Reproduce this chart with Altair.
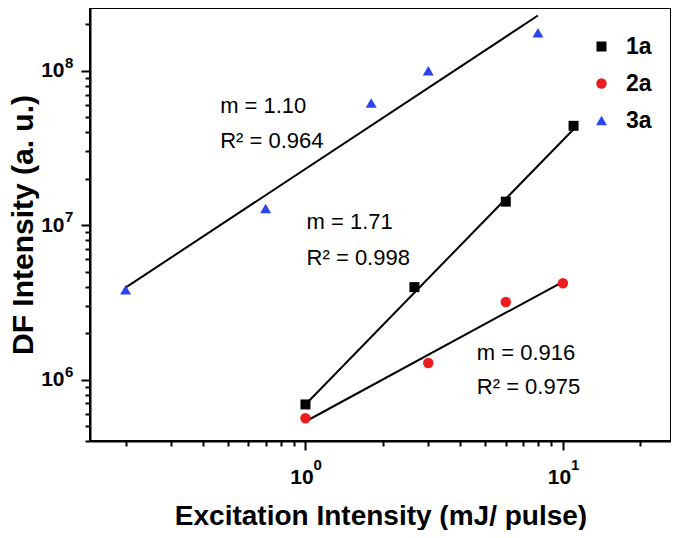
import altair as alt
import pandas as pd

# ---- data ----
series_names = ["1a", "2a", "3a"]
x_1a = [1.0, 2.65, 6.0, 11.0]
y_1a = [6.9e5, 3.97e6, 1.42e7, 4.4e7]
x_2a = [1.0, 3.0, 6.0, 10.0]
y_2a = [5.62e5, 1.28e6, 3.18e6, 4.2e6]
x_3a = [0.2, 0.7, 1.8, 3.0, 8.0]
y_3a = [3.82e6, 1.28e7, 6.19e7, 1.0e8, 1.76e8]

# fitted lines (end points)
fit_series = ["1a", "1a", "2a", "2a", "3a", "3a"]
fit_x = [1.0, 11.0, 1.0, 10.0, 0.2, 8.0]
fit_y = [6.9e5, 4.18e7, 5.35e5, 4.3e6, 3.94e6, 2.28e8]

# annotations
ann_text = ["m = 1.10", "R\u00b2 = 0.964", "m = 1.71", "R\u00b2 = 0.998",
            "m = 0.916", "R\u00b2 = 0.975"]
ann_x = [0.466, 0.466, 1.01, 1.01, 4.63, 4.63]
ann_y = [5.3e7, 3.14e7, 9.4e6, 5.56e6, 1.34e6, 8.11e5]

# axes
x_ticks = [0.2, 0.3, 0.4, 0.5, 0.6, 0.7, 0.8, 0.9, 1, 2, 3, 4, 5, 6, 7, 8, 9, 10, 20]
y_ticks = [4e5, 5e5, 6e5, 7e5, 8e5, 9e5, 1e6, 2e6, 3e6, 4e6, 5e6, 6e6, 7e6, 8e6, 9e6,
           1e7, 2e7, 3e7, 4e7, 5e7, 6e7, 7e7, 8e7, 9e7, 1e8, 2e8]
x_major = [1, 10]
x_exp = ["0", "1"]
y_major = [1e6, 1e7, 1e8]
y_exp = ["6", "7", "8"]
x_domain = [0.1455, 26.3]
y_domain = [4.0e5, 2.55e8]

FONT = "Liberation Sans"

# ---- tables ----
pts = pd.DataFrame({
    "series": ["1a"] * len(x_1a) + ["2a"] * len(x_2a) + ["3a"] * len(x_3a),
    "x": x_1a + x_2a + x_3a,
    "y": y_1a + y_2a + y_3a,
})
fits = pd.DataFrame({"series": fit_series, "x": fit_x, "y": fit_y})
ann = pd.DataFrame({"text": ann_text, "x": ann_x, "y": ann_y})
# exponent superscripts sit next to the "10" tick labels
xexp = pd.DataFrame({"x": x_major, "y": [y_domain[0]] * len(x_major), "e": x_exp})
yexp = pd.DataFrame({"x": [x_domain[0]] * len(y_major), "y": y_major, "e": y_exp})

xscale = alt.Scale(type="log", domain=x_domain, nice=False)
yscale = alt.Scale(type="log", domain=y_domain, nice=False)

x_axis = alt.Axis(
    title="Excitation Intensity (mJ/ pulse)",
    values=x_ticks,
    labelExpr="(datum.value == 1 || datum.value == 10) ? '10' : ''",
    tickSize={"condition": {"test": "datum.value == 1 || datum.value == 10", "value": 9}, "value": 5},
    labelPadding=16,
    labelOffset=-4,
    titlePadding=15,
    grid=False,
)
y_axis = alt.Axis(
    title="DF Intensity (a. u.)",
    values=y_ticks,
    labelExpr="(datum.value == 1e6 || datum.value == 1e7 || datum.value == 1e8) ? '10' : ''",
    tickSize={"condition": {"test": "datum.value == 1e6 || datum.value == 1e7 || datum.value == 1e8", "value": 9}, "value": 5},
    labelPadding=17,
    titlePadding=2,
    grid=False,
)

lines = alt.Chart(fits).mark_line(color="black", strokeWidth=2).encode(
    x=alt.X("x:Q", scale=xscale, axis=x_axis),
    y=alt.Y("y:Q", scale=yscale, axis=y_axis),
    detail="series:N",
)

leg = dict(
    title=None, orient="none", legendX=500, legendY=27,
    labelFont=FONT, labelFontSize=23, labelFontWeight="bold", labelColor="black",
    symbolSize=85, rowPadding=13, labelOffset=13, padding=0,
    symbolStrokeWidth=0,
)

points = alt.Chart(pts).mark_point(filled=True, opacity=1).encode(
    x=alt.X("x:Q", scale=xscale),
    y=alt.Y("y:Q", scale=yscale),
    color=alt.Color(
        "series:N",
        scale=alt.Scale(domain=series_names, range=["#000000", "#ee1d1d", "#2a44f0"]),
        legend=alt.Legend(**leg),
    ),
    shape=alt.Shape(
        "series:N",
        scale=alt.Scale(domain=series_names, range=["square", "circle", "triangle-up"]),
        legend=alt.Legend(**leg),
    ),
    size=alt.Size(
        "series:N",
        scale=alt.Scale(domain=series_names, range=[100, 120, 200]),
        legend=None,
    ),
)

texts = alt.Chart(ann).mark_text(
    align="left", baseline="alphabetic", font=FONT, fontSize=22, color="black"
).encode(
    x=alt.X("x:Q", scale=xscale),
    y=alt.Y("y:Q", scale=yscale),
    text="text:N",
)

x_sup = alt.Chart(xexp).mark_text(
    align="left", baseline="alphabetic", font=FONT, fontSize=15, fontWeight="bold",
    color="black", dx=8, dy=29,
).encode(
    x=alt.X("x:Q", scale=xscale),
    y=alt.Y("y:Q", scale=yscale),
    text="e:N",
)

y_sup = alt.Chart(yexp).mark_text(
    align="left", baseline="alphabetic", font=FONT, fontSize=15, fontWeight="bold",
    color="black", dx=-25, dy=-3,
).encode(
    x=alt.X("x:Q", scale=xscale),
    y=alt.Y("y:Q", scale=yscale),
    text="e:N",
)

chart = alt.layer(lines, points, texts, x_sup, y_sup).properties(
    width=663, height=522, padding=0,
    autosize=alt.AutoSizeParams(type="fit", contains="padding"),
).configure_view(
    stroke="black", strokeWidth=2
).configure_axis(
    domainColor="black", domainWidth=2, tickColor="black", tickWidth=2,
    labelFont=FONT, labelFontSize=21, labelFontWeight="bold", labelColor="black",
    titleFont=FONT, titleFontWeight="bold", titleColor="black",
).configure_axisX(
    titleFontSize=28
).configure_axisY(
    titleFontSize=30
)

chart.save("out.html", embed_options={"renderer": "svg", "actions": False})
